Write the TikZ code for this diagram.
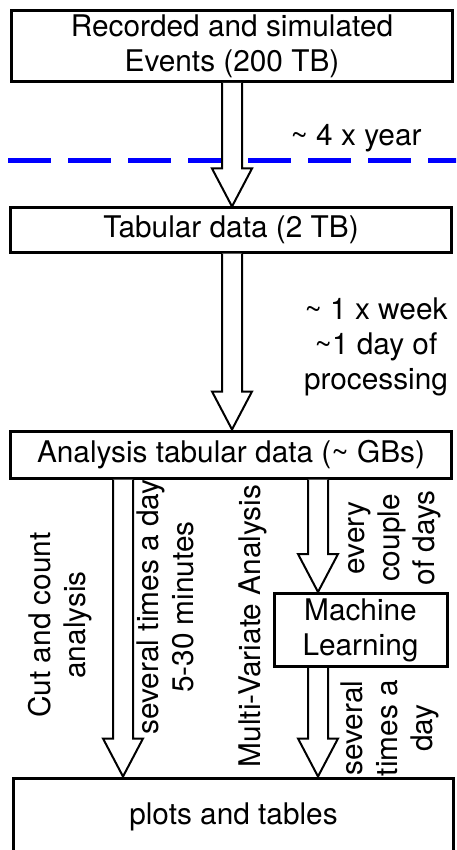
\documentclass[tikz,border=0pt]{standalone}
\usepackage{fontspec}
\setmainfont{TeX Gyre Heros}
\usetikzlibrary{calc}

% hollow block arrow from #1 down to the tip at #2
\newcommand\hollowarrow[2]{%
  \draw[arrowline] let \p1=(#1), \p2=(#2) in
    (\x1-10pt,\y1) -- (\x1-10pt,\y2+38pt) -- (\x1-20pt,\y2+38pt) --
    (\x2,\y2) -- (\x1+20pt,\y2+38pt) -- (\x1+10pt,\y2+38pt) -- (\x1+10pt,\y1);}

\begin{document}
\begin{tikzpicture}[x=1pt,y=-1pt,
  txt/.style={inner sep=0pt, align=center, font=\fontsize{29.8}{35}\selectfont},
  box/.style={txt, draw, line width=3pt},
  arrowline/.style={draw, line width=2pt, fill=white, line join=miter},
  vtxt/.style={txt, rotate=90},
  period/.style={draw=blue, line width=5pt, dash pattern=on 43pt off 17pt}]
\useasboundingbox (0,0) rectangle (456,850);
\clip (0,0) rectangle (456,850);
\fill[white] (0,0) rectangle (456,850);

% data stages
\node[box, minimum width=441pt, minimum height=71pt] (events) at (232,46)
  {Recorded and simulated\\Events (200 TB)};
\node[box, minimum width=441pt, minimum height=44pt] (tab) at (231,230)
  {Tabular data (2 TB)};
\node[box, minimum width=441pt, minimum height=47pt] (ana) at (231,454.5)
  {Analysis tabular data (\textasciitilde{} GBs)};
\node[box, minimum width=173pt, minimum height=73pt] (ml) at (360.5,630)
  {Machine\\Learning};
\node[box, minimum width=440pt, minimum height=78pt] (plots) at (233.5,817)
  {plots and tables};

% arrow columns
\coordinate (colA) at (232,0);
\coordinate (colB) at (123,0);
\coordinate (colC) at (318,0);

% yearly boundary
\coordinate (dashL) at (8,161);
\coordinate (dashR) at (470,161);
\draw[period] (dashL) -- (dashR);

% flows
\hollowarrow{events.south -| colA}{tab.north -| colA}
\hollowarrow{tab.south -| colA}{ana.north -| colA}
\hollowarrow{ana.south -| colB}{plots.north -| colB}
\hollowarrow{ana.south -| colC}{ml.north -| colC}
\hollowarrow{ml.south -| colC}{plots.north -| colC}

% annotations
\node[txt] (yearly) at (356,138) {\textasciitilde{} 4 x year};
\node[txt] (weekly) at (376,347)
  {\textasciitilde{} 1 x week\\\textasciitilde1 day of\\processing};
\node[vtxt] (cutcount) at (60,625) {Cut and count\\analysis};
\node[vtxt] (cutfreq) at (165,607) {several times a day\\5-30 minutes};
\node[vtxt] (mva) at (253,626) {Multi-Variate Analysis};
\node[vtxt] (mlfreq) at (395,538) {every\\couple\\of days};
\node[vtxt] (mvafreq) at (390,728) {several\\times a\\day};
\end{tikzpicture}
\end{document}
